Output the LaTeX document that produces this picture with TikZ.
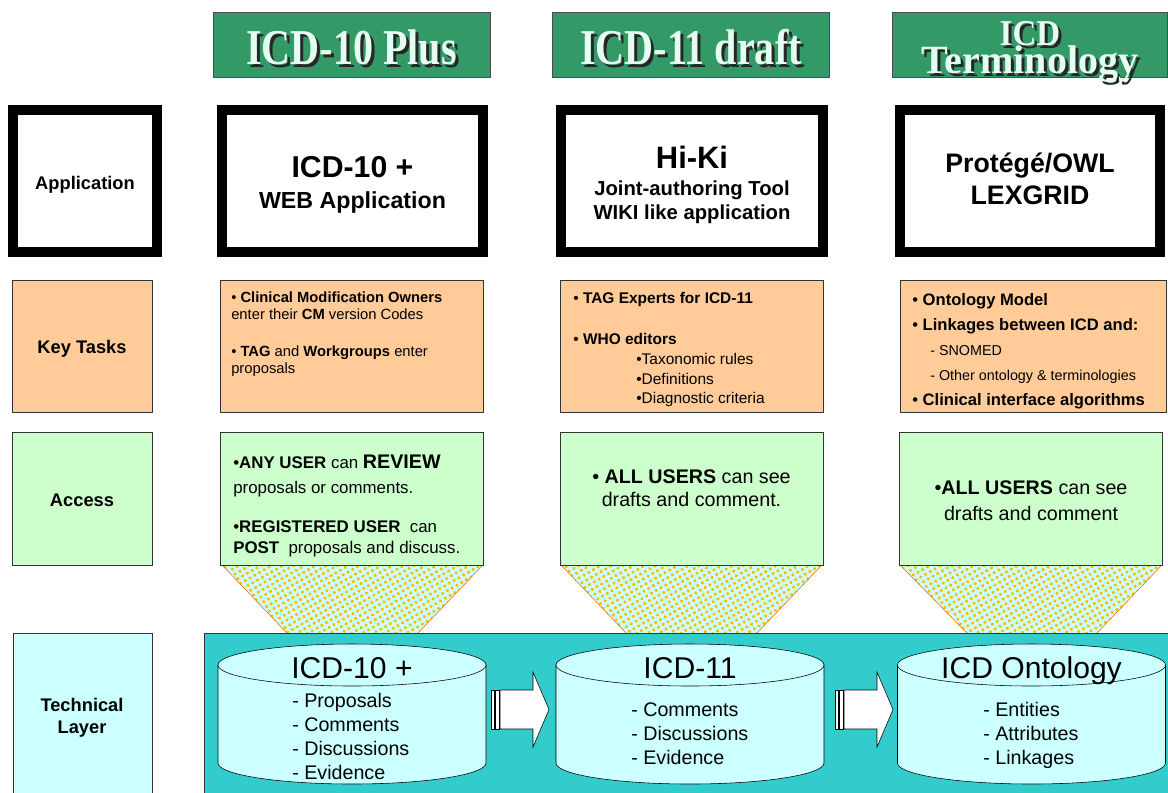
\documentclass[tikz,border=0pt]{standalone}
\usepackage{fontspec}
\setmainfont{Liberation Sans}
\newfontfamily\hdfont{Liberation Serif}
\usetikzlibrary{calc,patterns.meta}

\definecolor{hdgreen}{HTML}{339966}
\definecolor{hdwhite}{HTML}{E4FFF2}
\definecolor{ktorange}{HTML}{FFCC99}
\definecolor{acgreen}{HTML}{CCFFCC}
\definecolor{tlcyan}{HTML}{CCFFFF}
\definecolor{tlteal}{HTML}{33CCCC}
\definecolor{dotyellow}{HTML}{FFBB00}
\definecolor{edgeorange}{HTML}{FF6600}

\newcommand\dbcyl[2]{% #1 = 中心 x, #2 = 名字
  \draw[fill=tlcyan] (#1-134,665) -- (#1-134,763) arc[start angle=180,end angle=0,x radius=134,y radius=21] -- (#1+134,665) -- cycle;
  \draw[fill=tlcyan] (#1,665) ellipse [x radius=134,y radius=21];
  \coordinate (#2) at (#1,665);
}
\newcommand\blkarrow[1]{% #1 = 条纹左端 x
  \draw[fill=white] (#1,690) rectangle ++(3.5,39);
  \draw[fill=white] (#1+4.5,690) rectangle ++(3.5,39);
  \draw[fill=white] (#1+9,690) -- ++(33,0) -- ++(0,-18) -- ++(16,37.5) -- ++(-16,37.5) -- ++(0,-18) -- ++(-33,0) -- cycle;
}
\newcommand\tall[2]{\scalebox{1}[#1]{#2}}

\begin{document}
\begin{tikzpicture}[x=0.025cm, y=-0.025cm,
  hdbox/.style={draw=black!70, fill=hdgreen, minimum width=6.925cm, minimum height=1.625cm},
  hdtext/.style={font=\hdfont\bfseries\fontsize{28.5}{20.2}\selectfont, text=hdwhite, align=center, inner sep=0},
  hdshadow/.style={hdtext, text=black!85},
  appbox/.style={draw=black, line width=0.25cm, fill=white, minimum height=3.55cm},
  apptext/.style={align=center, inner sep=0, font=\bfseries},
  ktbox/.style={draw=black!80, fill=ktorange, minimum height=3.3cm},
  acbox/.style={draw=black!80, fill=acgreen, minimum height=3.325cm},
  label/.style={align=center, inner sep=0, font=\bfseries\fontsize{13}{15.6}\selectfont},
  tpz/.style={preaction={fill=tlcyan}, pattern={Dots[radius=1.3pt,distance=3.9pt,angle=30]}, pattern color=dotyellow},
  boxtext/.style={anchor=north west, align=left, inner sep=0},
  cyltitle/.style={font=\fontsize{21.4}{25}\selectfont, inner sep=0, anchor=base},
  cylitems/.style={anchor=north west, align=left, inner sep=0, font=\fontsize{14}{17.1}\selectfont}]
\useasboundingbox (0,0) rectangle (1168,792);

% 标题
\node[hdbox] (h1) at (351.5,44.5) {};
\node[hdbox] (h2) at (691,44.5) {};
\node[hdbox, minimum width=6.875cm] (h3) at (1029.5,44.5) {};
\node[hdshadow] (h1s) at (354.5,50) {\tall{1.25}{ICD-10 Plus}};
\node[hdtext] (h1t) at (351.5,47) {\tall{1.25}{ICD-10 Plus}};
\node[hdshadow] (h2s) at (694,50) {\tall{1.25}{ICD-11 draft}};
\node[hdtext] (h2t) at (691,47) {\tall{1.25}{ICD-11 draft}};
\node[hdshadow] (h3s) at (1033,55) {\tall{1.1}{\fontsize{23.5}{20.2}\selectfont ICD}\\ Terminology};
\node[hdtext] (h3t) at (1030,52) {\tall{1.1}{\fontsize{23.5}{20.2}\selectfont ICD}\\ Terminology};

% Application 行
\node[appbox, minimum width=3.6cm] (a0) at (85,181) {};
\node[appbox, minimum width=6.525cm] (a1) at (352.5,181) {};
\node[appbox, minimum width=6.55cm] (a2) at (692,181) {};
\node[appbox, minimum width=6.5cm] (a3) at (1030,181) {};
\node[label] (a0t) at (85,185) {Application};
\node[apptext, font=\bfseries\fontsize{16.5}{22}\selectfont] (a1t) at (352.5,185) {{\fontsize{21.5}{22}\selectfont ICD-10 +}\\ WEB Application};
\node[apptext, font=\bfseries\fontsize{14.4}{17}\selectfont] (a2t) at (692,185) {{\fontsize{22}{17}\selectfont Hi-Ki}\\[2.2pt] Joint-authoring Tool\\ WIKI like application};
\node[apptext, font=\bfseries\fontsize{19}{22.8}\selectfont] (a3t) at (1030,179) {Protégé/OWL\\ LEXGRID};

% Key Tasks 行
\node[ktbox, minimum width=3.5cm] (k0) at (82,346) {};
\node[ktbox, minimum width=6.575cm] (k1) at (351.5,346) {};
\node[ktbox, minimum width=6.575cm] (k2) at (691.5,346) {};
\node[ktbox, minimum width=6.65cm] (k3) at (1033,346) {};
\node[label] (k0t) at (82,349) {Key Tasks};
\node[boxtext, font=\fontsize{10.5}{12.1}\selectfont] (k1t) at (231,291.5) {• \textbf{Clinical Modification Owners}\\ enter their \textbf{CM} version Codes\\[14pt] • \textbf{TAG} and \textbf{Workgroups} enter\\ proposals};
\node[boxtext, font=\fontsize{11}{14.2}\selectfont] (k2t) at (573,291.5) {• \textbf{TAG Experts for ICD-11}\\[15pt] • \textbf{WHO editors}\\ \hspace*{1.575cm}•Taxonomic rules\\ \hspace*{1.575cm}•Definitions\\ \hspace*{1.575cm}•Diagnostic criteria};
\node[boxtext, font=\fontsize{11.8}{17.8}\selectfont] (k3t) at (912,293) {• \textbf{Ontology Model}\\ • \textbf{Linkages between ICD and:}\\ \hspace*{0.45cm}{\fontsize{10.2}{17.8}\selectfont - SNOMED}\\ \hspace*{0.45cm}{\fontsize{10.2}{17.8}\selectfont - Other ontology \& terminologies}\\ • \textbf{Clinical interface algorithms}};

% 漏斗
\fill[tpz] (223,566) -- (482,566) -- (418,633) -- (287,633) -- cycle;
\fill[tpz] (562,566) -- (821,566) -- (757,633) -- (626,633) -- cycle;
\fill[tpz] (901,566) -- (1161,566) -- (1097,633) -- (967,633) -- cycle;
\draw[edgeorange] (223,566) -- (287,633) (482,566) -- (418,633);
\draw[edgeorange] (562,566) -- (626,633) (821,566) -- (757,633);
\draw[edgeorange] (901,566) -- (967,633) (1161,566) -- (1097,633);

% Access 行
\node[acbox, minimum width=3.5cm] (ac0) at (82,498.5) {};
\node[acbox, minimum width=6.575cm] (ac1) at (351.5,498.5) {};
\node[acbox, minimum width=6.575cm] (ac2) at (691.5,498.5) {};
\node[acbox, minimum width=6.575cm] (ac3) at (1031,498.5) {};
\node[label] (ac0t) at (82,500) {Access};
\node[boxtext, font=\fontsize{12}{15}\selectfont] (ac1t) at (233,454.5) {•\textbf{ANY USER} can {\fontsize{14}{15}\selectfont\bfseries REVIEW}\\[2.8pt] proposals or comments.\\[12.7pt] •\textbf{REGISTERED USER}\ \ can\\ \textbf{POST}\ \ proposals and discuss.};
\node[align=center, inner sep=0, font=\fontsize{14}{16.4}\selectfont] (ac2t) at (691.5,488.5) {• \textbf{ALL USERS} can see\\ drafts and comment.};
\node[align=center, inner sep=0, font=\fontsize{14}{18.5}\selectfont] (ac3t) at (1031,501) {•\textbf{ALL USERS} can see\\ drafts and comment};

% Technical Layer 行
\draw[black!80, fill=tlcyan] (13,633) rectangle (152,800);
\node[label] (tl0) at (82,718) {Technical\\Layer};
\draw[black!80, fill=tlteal] (204,633) rectangle (1180,800);

\dbcyl{352}{c1}
\dbcyl{690}{c2}
\dbcyl{1031.5}{c3}
\node[cyltitle] (c1t) at (352,678) {ICD-10 +};
\node[cyltitle] (c2t) at (690,678) {ICD-11};
\node[cyltitle] (c3t) at (1031.5,678) {ICD Ontology};
\node[cylitems] (c1i) at (292,693) {- Proposals\\ - Comments\\ - Discussions\\ - Evidence};
\node[cylitems] (c2i) at (631,702) {- Comments\\ - Discussions\\ - Evidence};
\node[cylitems] (c3i) at (983,702) {- Entities\\ - Attributes\\ - Linkages};

\blkarrow{491}
\blkarrow{835}
\end{tikzpicture}
\end{document}
